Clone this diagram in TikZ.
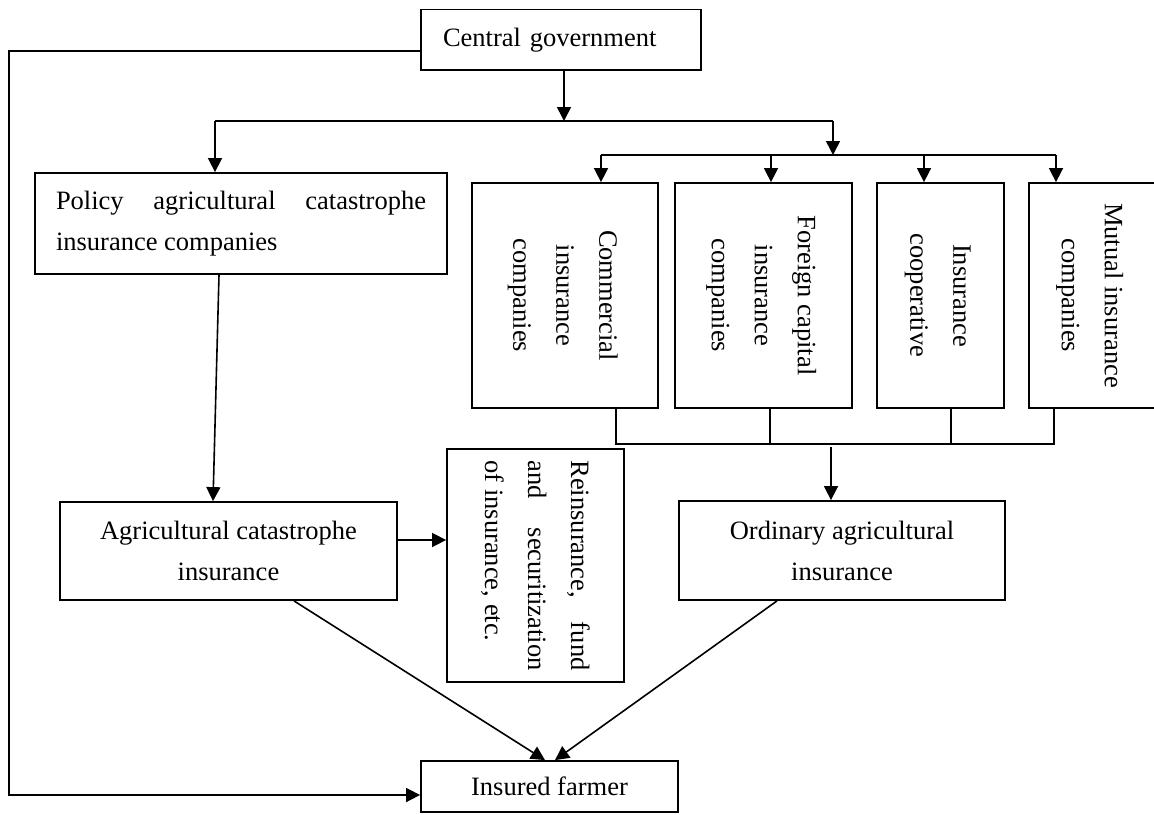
\documentclass[tikz,border=0pt]{standalone}
\usepackage{fontspec}
\setmainfont{Liberation Serif}
\usepackage{graphicx}
\usetikzlibrary{arrows.meta}
\begin{document}
\begin{tikzpicture}[x=1pt,y=-1pt,
  box/.style={draw,line width=1.8pt,inner sep=0pt,font=\fontsize{26.5}{41}\selectfont},
  conn/.style={line width=1.6pt},
  arr/.style={conn,-{Triangle[length=14pt,width=14pt]}}]
\useasboundingbox (0,0) rectangle (1154,814);
\newcommand{\vstack}[1]{\rotatebox{-90}{\renewcommand{\arraystretch}{1.05}\begin{tabular}{@{}c@{}}#1\end{tabular}}}
% boxes
\node[box,minimum width=280pt,minimum height=60.5pt,inner xsep=22pt,text width=236pt,align=left] (cg) at (561,39.75) {Central government};
\node[box,minimum width=412pt,minimum height=101pt] (pol) at (241,223.5)
  {\parbox{370pt}{\hyphenpenalty=10000\tolerance=10000\noindent Policy agricultural catastrophe insurance companies}};
\node[box,minimum width=186pt,minimum height=225pt] (com) at (565,295.5)
  {\vstack{Commercial\\insurance\\companies}};
\node[box,minimum width=177pt,minimum height=225pt] (for) at (763.5,295.5)
  {\vstack{Foreign capital\\insurance\\companies}};
\node[box,minimum width=127pt,minimum height=225pt] (coop) at (940.5,295.5)
  {\vstack{Insurance\\cooperative}};
\node[box,minimum width=126pt,minimum height=225pt] (mut) at (1092,295.5)
  {\vstack{Mutual insurance\\companies}};
\node[box,align=center,minimum width=337pt,minimum height=98pt] (agr) at (228.5,551)
  {Agricultural catastrophe\\insurance};
\node[box,minimum width=177pt,minimum height=233pt] (rei) at (535.5,565.5)
  {\rotatebox{-90}{\parbox{210pt}{\baselineskip=43pt\hyphenpenalty=10000\tolerance=10000\noindent Reinsurance, fund and securitization of insurance, etc.}}};
\node[box,align=center,minimum width=326pt,minimum height=99pt] (ord) at (842,550.5)
  {Ordinary agricultural\\insurance};
\node[box,minimum width=257pt,minimum height=51pt] (fa) at (549.5,786.5) {Insured farmer};
% connectors from central government
\coordinate (j1) at (564,121);
\coordinate (jl) at (215,121);
\coordinate (jr) at (833,121);
\coordinate (j2) at (833,155);
\draw[arr] (j1 |- cg.south) -- (j1);
\draw[conn] (jl) -- (jr);
\draw[arr] (jl) -- (jl |- pol.north);
\draw[arr] (jr) -- (j2);
\coordinate (k1) at (601,155);
\coordinate (k2) at (771,155);
\coordinate (k3) at (924,155);
\coordinate (k4) at (1056,155);
\draw[conn] (k1) -- (k4);
\draw[arr] (k1) -- (k1 |- com.north);
\draw[arr] (k2) -- (k2 |- for.north);
\draw[arr] (k3) -- (k3 |- coop.north);
\draw[arr] (k4) -- (k4 |- mut.north);
% collecting line under companies
\coordinate (b1) at (616,444);
\coordinate (b2) at (770,444);
\coordinate (b3) at (951,444);
\coordinate (b4) at (1054,444);
\coordinate (b5) at (831,447);
\draw[conn] (b1 |- com.south) -- (b1) -- (b4) -- (b4 |- mut.south);
\draw[conn] (b2 |- for.south) -- (b2);
\draw[conn] (b3 |- coop.south) -- (b3);
\draw[arr] (b5) -- (b5 |- ord.north);
% policy to agricultural
\draw[arr] ([xshift=-22pt]pol.south) -- ([xshift=-15.5pt]agr.north);
\coordinate (ae) at ([yshift=11pt]agr.east);
\draw[arr] (ae) -- (ae -| rei.west);
% to insured farmer
\draw[arr] ([xshift=65.5pt]agr.south) -- ([xshift=-4.5pt]fa.north);
\draw[arr] ([xshift=-65pt]ord.south) -- ([xshift=5.5pt]fa.north);
\coordinate (cw) at ([yshift=-11.25pt]cg.west);
\coordinate (lc) at (9,795);
\draw[arr] (cw) -| (lc) -- (lc -| fa.west);
\end{tikzpicture}
\end{document}
